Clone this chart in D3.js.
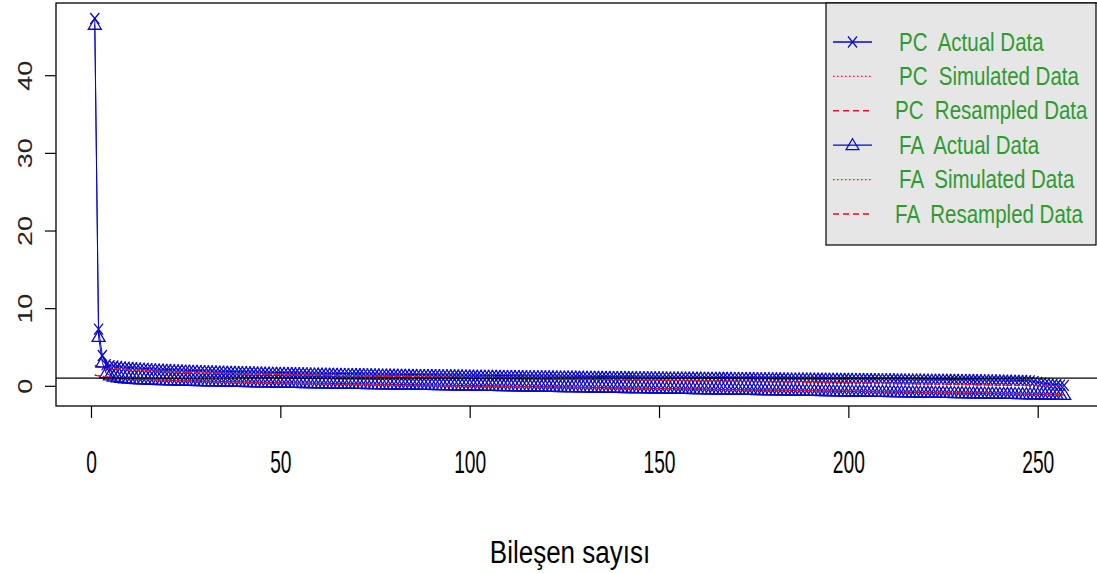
<!DOCTYPE html>
<html>
<head>
<meta charset="utf-8">
<script src="https://cdn.jsdelivr.net/npm/d3@7"></script>
<style>
  body { margin: 0; background: #fff; }
  svg { display: block; font-family: "Liberation Sans", Arial, sans-serif; }
</style>
</head>
<body>
<svg id="chart" width="1097" height="573"></svg>
<script>
// eigenvalues (component 1..257)
const pcActual = [
  47.3, 7.3, 3.9,
  2.72, 2.61, 2.55, 2.49, 2.44, 2.40, 2.36,
  2.33, 2.30, 2.27, 2.24, 2.21, 2.19, 2.16, 2.14, 2.12, 2.10,
  2.08, 2.06, 2.04, 2.03, 2.01, 1.99, 1.98, 1.96, 1.95, 1.93,
  1.92, 1.91, 1.89, 1.88, 1.87, 1.86, 1.84, 1.83, 1.82, 1.81,
  1.80, 1.79, 1.78, 1.77, 1.76, 1.75, 1.74, 1.73, 1.72, 1.71,
  1.70, 1.69, 1.68, 1.68, 1.67, 1.66, 1.65, 1.64, 1.63, 1.63,
  1.62, 1.61, 1.60, 1.60, 1.59, 1.58, 1.57, 1.57, 1.56, 1.55,
  1.55, 1.54, 1.53, 1.53, 1.52, 1.51, 1.51, 1.50, 1.49, 1.49,
  1.48, 1.47, 1.47, 1.46, 1.46, 1.45, 1.44, 1.44, 1.43, 1.43,
  1.42, 1.41, 1.41, 1.40, 1.40, 1.39, 1.39, 1.38, 1.37, 1.37,
  1.36, 1.36, 1.35, 1.35, 1.34, 1.34, 1.33, 1.33, 1.32, 1.32,
  1.31, 1.31, 1.30, 1.30, 1.29, 1.29, 1.28, 1.28, 1.27, 1.27,
  1.26, 1.26, 1.25, 1.25, 1.24, 1.24, 1.24, 1.23, 1.23, 1.22,
  1.22, 1.21, 1.21, 1.20, 1.20, 1.20, 1.19, 1.19, 1.18, 1.18,
  1.17, 1.17, 1.17, 1.16, 1.16, 1.15, 1.15, 1.15, 1.14, 1.14,
  1.13, 1.13, 1.13, 1.12, 1.12, 1.11, 1.11, 1.11, 1.10, 1.10,
  1.09, 1.09, 1.09, 1.08, 1.08, 1.07, 1.07, 1.07, 1.06, 1.06,
  1.05, 1.05, 1.05, 1.04, 1.04, 1.03, 1.03, 1.03, 1.02, 1.02,
  1.01, 1.01, 1.01, 1.00, 1.00, 0.99, 0.99, 0.99, 0.98, 0.98,
  0.97, 0.97, 0.97, 0.96, 0.96, 0.95, 0.95, 0.94, 0.94, 0.94,
  0.93, 0.93, 0.92, 0.92, 0.91, 0.91, 0.91, 0.90, 0.90, 0.89,
  0.89, 0.88, 0.88, 0.87, 0.87, 0.87, 0.86, 0.86, 0.85, 0.85,
  0.84, 0.84, 0.83, 0.83, 0.82, 0.82, 0.81, 0.81, 0.80, 0.80,
  0.79, 0.79, 0.78, 0.78, 0.77, 0.76, 0.76, 0.75, 0.74, 0.74,
  0.73, 0.72, 0.71, 0.70, 0.69, 0.68, 0.66, 0.64, 0.55, 0.45,
  0.38, 0.31, 0.25, 0.19, 0.14, 0.09, 0.05
];

const pcSimulated = [
  2.63, 2.49, 2.41, 2.34, 2.29, 2.24, 2.19, 2.15, 2.12, 2.08,
  2.05, 2.02, 1.99, 1.97, 1.94, 1.92, 1.90, 1.88, 1.86, 1.84,
  1.82, 1.80, 1.79, 1.77, 1.75, 1.74, 1.72, 1.71, 1.69, 1.68,
  1.67, 1.65, 1.64, 1.63, 1.62, 1.60, 1.59, 1.58, 1.57, 1.56,
  1.55, 1.54, 1.53, 1.52, 1.51, 1.50, 1.49, 1.48, 1.47, 1.46,
  1.45, 1.44, 1.43, 1.42, 1.41, 1.40, 1.40, 1.39, 1.38, 1.37,
  1.36, 1.35, 1.34, 1.34, 1.33, 1.32, 1.31, 1.30, 1.30, 1.29,
  1.28, 1.27, 1.26, 1.26, 1.25, 1.24, 1.23, 1.23, 1.22, 1.21,
  1.20, 1.20, 1.19, 1.18, 1.17, 1.17, 1.16, 1.15, 1.14, 1.14,
  1.13, 1.12, 1.11, 1.11, 1.10, 1.09, 1.09, 1.08, 1.07, 1.06,
  1.06, 1.05, 1.04, 1.04, 1.03, 1.02, 1.01, 1.01, 1.00, 0.99,
  0.99, 0.98, 0.97, 0.97, 0.96, 0.95, 0.95, 0.94, 0.93, 0.92,
  0.92, 0.91, 0.90, 0.90, 0.89, 0.88, 0.88, 0.87, 0.86, 0.86,
  0.85, 0.84, 0.84, 0.83, 0.82, 0.82, 0.81, 0.80, 0.80, 0.79,
  0.78, 0.78, 0.77, 0.76, 0.76, 0.75, 0.74, 0.74, 0.73, 0.72,
  0.72, 0.71, 0.70, 0.70, 0.69, 0.68, 0.68, 0.67, 0.66, 0.66,
  0.65, 0.64, 0.64, 0.63, 0.62, 0.62, 0.61, 0.60, 0.60, 0.59,
  0.58, 0.58, 0.57, 0.56, 0.56, 0.55, 0.54, 0.54, 0.53, 0.52,
  0.52, 0.51, 0.50, 0.50, 0.49, 0.48, 0.48, 0.47, 0.46, 0.46,
  0.45, 0.44, 0.44, 0.43, 0.42, 0.42, 0.41, 0.40, 0.40, 0.39,
  0.38, 0.38, 0.37, 0.36, 0.36, 0.35, 0.34, 0.34, 0.33, 0.32,
  0.32, 0.31, 0.30, 0.29, 0.29, 0.28, 0.27, 0.27, 0.26, 0.25,
  0.24, 0.24, 0.23, 0.22, 0.21, 0.21, 0.20, 0.19, 0.18, 0.17,
  0.17, 0.16, 0.15, 0.14, 0.13, 0.12, 0.11, 0.10, 0.09, 0.08,
  0.08, 0.08, 0.07, 0.07, 0.06, 0.06, 0.05, 0.05, 0.05, 0.04,
  0.04, 0.04, 0.03, 0.03, 0.03, 0.02, 0.02
];

const pcResampled = [
  2.58, 2.46, 2.39, 2.33, 2.27, 2.23, 2.18, 2.14, 2.10, 2.07,
  2.04, 2.01, 1.98, 1.95, 1.93, 1.91, 1.89, 1.87, 1.85, 1.83,
  1.81, 1.79, 1.78, 1.76, 1.74, 1.73, 1.71, 1.70, 1.68, 1.67,
  1.66, 1.64, 1.63, 1.62, 1.61, 1.59, 1.58, 1.57, 1.56, 1.55,
  1.54, 1.53, 1.52, 1.51, 1.50, 1.49, 1.48, 1.47, 1.46, 1.45,
  1.44, 1.43, 1.42, 1.41, 1.40, 1.40, 1.39, 1.38, 1.37, 1.36,
  1.35, 1.34, 1.34, 1.33, 1.32, 1.31, 1.30, 1.30, 1.29, 1.28,
  1.27, 1.26, 1.26, 1.25, 1.24, 1.23, 1.23, 1.22, 1.21, 1.20,
  1.20, 1.19, 1.18, 1.17, 1.17, 1.16, 1.15, 1.14, 1.14, 1.13,
  1.12, 1.11, 1.11, 1.10, 1.09, 1.09, 1.08, 1.07, 1.06, 1.06,
  1.05, 1.04, 1.04, 1.03, 1.02, 1.01, 1.01, 1.00, 0.99, 0.99,
  0.98, 0.97, 0.97, 0.96, 0.95, 0.95, 0.94, 0.93, 0.92, 0.92,
  0.91, 0.90, 0.90, 0.89, 0.88, 0.88, 0.87, 0.86, 0.86, 0.85,
  0.84, 0.84, 0.83, 0.82, 0.82, 0.81, 0.80, 0.80, 0.79, 0.78,
  0.78, 0.77, 0.76, 0.76, 0.75, 0.74, 0.74, 0.73, 0.72, 0.72,
  0.71, 0.70, 0.70, 0.69, 0.68, 0.68, 0.67, 0.66, 0.66, 0.65,
  0.64, 0.64, 0.63, 0.62, 0.62, 0.61, 0.60, 0.60, 0.59, 0.58,
  0.58, 0.57, 0.56, 0.56, 0.55, 0.54, 0.54, 0.53, 0.52, 0.52,
  0.51, 0.50, 0.50, 0.49, 0.48, 0.48, 0.47, 0.46, 0.46, 0.45,
  0.44, 0.44, 0.43, 0.42, 0.42, 0.41, 0.40, 0.40, 0.39, 0.38,
  0.38, 0.37, 0.36, 0.36, 0.35, 0.34, 0.34, 0.33, 0.32, 0.32,
  0.31, 0.30, 0.30, 0.29, 0.28, 0.28, 0.27, 0.26, 0.25, 0.25,
  0.24, 0.23, 0.22, 0.22, 0.21, 0.20, 0.19, 0.18, 0.18, 0.17,
  0.16, 0.15, 0.14, 0.13, 0.12, 0.11, 0.11, 0.10, 0.09, 0.09,
  0.08, 0.08, 0.07, 0.07, 0.06, 0.06, 0.06, 0.05, 0.05, 0.04,
  0.04, 0.04, 0.03, 0.03, 0.03, 0.02, 0.02
];

const faActual = [
  46.5, 6.3, 3.0,
  1.62, 1.35, 1.18, 1.08, 1.01, 0.96, 0.92,
  0.89, 0.86, 0.84, 0.82, 0.80, 0.78, 0.76, 0.75, 0.73, 0.72,
  0.70, 0.69, 0.68, 0.66, 0.65, 0.64, 0.63, 0.62, 0.61, 0.60,
  0.59, 0.58, 0.57, 0.56, 0.55, 0.54, 0.53, 0.52, 0.51, 0.50,
  0.49, 0.48, 0.47, 0.46, 0.46, 0.45, 0.44, 0.43, 0.42, 0.41,
  0.40, 0.40, 0.39, 0.38, 0.37, 0.36, 0.36, 0.35, 0.34, 0.33,
  0.32, 0.32, 0.31, 0.30, 0.29, 0.29, 0.28, 0.27, 0.26, 0.26,
  0.25, 0.24, 0.23, 0.23, 0.22, 0.21, 0.20, 0.20, 0.19, 0.18,
  0.17, 0.17, 0.16, 0.15, 0.14, 0.14, 0.13, 0.12, 0.11, 0.11,
  0.10, 0.09, 0.08, 0.08, 0.07, 0.06, 0.05, 0.05, 0.04, 0.03,
  0.02, 0.02, 0.01, 0.00, -0.01, -0.01, -0.02, -0.03, -0.04, -0.04,
  -0.05, -0.06, -0.07, -0.07, -0.08, -0.09, -0.10, -0.10, -0.11, -0.12,
  -0.13, -0.13, -0.14, -0.15, -0.16, -0.16, -0.17, -0.18, -0.19, -0.19,
  -0.20, -0.21, -0.22, -0.22, -0.23, -0.24, -0.25, -0.25, -0.26, -0.27,
  -0.28, -0.28, -0.29, -0.30, -0.31, -0.31, -0.32, -0.33, -0.34, -0.34,
  -0.35, -0.36, -0.37, -0.37, -0.38, -0.39, -0.40, -0.40, -0.41, -0.42,
  -0.43, -0.43, -0.44, -0.45, -0.46, -0.46, -0.47, -0.48, -0.49, -0.49,
  -0.50, -0.51, -0.52, -0.52, -0.53, -0.54, -0.55, -0.55, -0.56, -0.57,
  -0.58, -0.58, -0.59, -0.60, -0.61, -0.61, -0.62, -0.63, -0.64, -0.64,
  -0.65, -0.66, -0.67, -0.67, -0.68, -0.69, -0.70, -0.70, -0.71, -0.72,
  -0.73, -0.73, -0.74, -0.75, -0.76, -0.76, -0.77, -0.78, -0.79, -0.79,
  -0.80, -0.81, -0.82, -0.82, -0.83, -0.84, -0.85, -0.85, -0.86, -0.87,
  -0.88, -0.88, -0.89, -0.90, -0.91, -0.91, -0.92, -0.93, -0.94, -0.94,
  -0.95, -0.96, -0.97, -0.97, -0.98, -0.99, -1.00, -1.00, -1.01, -1.02,
  -1.03, -1.03, -1.04, -1.05, -1.06, -1.07, -1.08, -1.09, -1.10, -1.11,
  -1.12, -1.13, -1.14, -1.15, -1.16, -1.17, -1.18
];

const faSimulated = [
  1.42, 1.30, 1.23, 1.17, 1.12, 1.08, 1.04, 1.00, 0.97, 0.94,
  0.91, 0.89, 0.86, 0.84, 0.82, 0.80, 0.78, 0.76, 0.74, 0.72,
  0.71, 0.69, 0.68, 0.66, 0.65, 0.63, 0.62, 0.61, 0.59, 0.58,
  0.57, 0.56, 0.54, 0.53, 0.52, 0.51, 0.50, 0.49, 0.48, 0.47,
  0.46, 0.45, 0.44, 0.43, 0.42, 0.41, 0.40, 0.39, 0.38, 0.37,
  0.36, 0.35, 0.34, 0.33, 0.32, 0.32, 0.31, 0.30, 0.29, 0.28,
  0.27, 0.26, 0.26, 0.25, 0.24, 0.23, 0.22, 0.22, 0.21, 0.20,
  0.19, 0.18, 0.18, 0.17, 0.16, 0.15, 0.15, 0.14, 0.13, 0.12,
  0.12, 0.11, 0.10, 0.09, 0.09, 0.08, 0.07, 0.06, 0.06, 0.05,
  0.04, 0.03, 0.03, 0.02, 0.01, 0.01, 0.00, -0.01, -0.02, -0.02,
  -0.03, -0.04, -0.04, -0.05, -0.06, -0.07, -0.07, -0.08, -0.09, -0.09,
  -0.10, -0.11, -0.11, -0.12, -0.13, -0.14, -0.14, -0.15, -0.16, -0.16,
  -0.17, -0.18, -0.18, -0.19, -0.20, -0.20, -0.21, -0.22, -0.22, -0.23,
  -0.24, -0.24, -0.25, -0.26, -0.26, -0.27, -0.28, -0.28, -0.29, -0.30,
  -0.30, -0.31, -0.32, -0.32, -0.33, -0.34, -0.34, -0.35, -0.36, -0.36,
  -0.37, -0.38, -0.38, -0.39, -0.40, -0.40, -0.41, -0.42, -0.42, -0.43,
  -0.44, -0.44, -0.45, -0.46, -0.46, -0.47, -0.48, -0.48, -0.49, -0.50,
  -0.50, -0.51, -0.52, -0.52, -0.53, -0.54, -0.54, -0.55, -0.56, -0.56,
  -0.57, -0.58, -0.58, -0.59, -0.60, -0.60, -0.61, -0.62, -0.62, -0.63,
  -0.64, -0.64, -0.65, -0.66, -0.66, -0.67, -0.68, -0.68, -0.69, -0.70,
  -0.70, -0.71, -0.72, -0.72, -0.73, -0.74, -0.74, -0.75, -0.76, -0.76,
  -0.77, -0.78, -0.78, -0.79, -0.80, -0.80, -0.81, -0.82, -0.83, -0.83,
  -0.84, -0.85, -0.85, -0.86, -0.87, -0.87, -0.88, -0.89, -0.90, -0.90,
  -0.91, -0.92, -0.93, -0.93, -0.94, -0.95, -0.96, -0.96, -0.97, -0.98,
  -0.99, -0.99, -1.00, -1.01, -1.02, -1.03, -1.03, -1.04, -1.05, -1.06,
  -1.07, -1.08, -1.09, -1.10, -1.11, -1.12, -1.13
];

const faResampled = [
  1.38, 1.28, 1.21, 1.16, 1.11, 1.07, 1.03, 0.99, 0.96, 0.93,
  0.90, 0.88, 0.85, 0.83, 0.81, 0.79, 0.77, 0.75, 0.73, 0.72,
  0.70, 0.68, 0.67, 0.65, 0.64, 0.62, 0.61, 0.60, 0.58, 0.57,
  0.56, 0.55, 0.53, 0.52, 0.51, 0.50, 0.49, 0.48, 0.47, 0.46,
  0.45, 0.44, 0.43, 0.42, 0.41, 0.40, 0.39, 0.38, 0.37, 0.36,
  0.35, 0.34, 0.33, 0.33, 0.32, 0.31, 0.30, 0.29, 0.28, 0.27,
  0.27, 0.26, 0.25, 0.24, 0.23, 0.23, 0.22, 0.21, 0.20, 0.19,
  0.19, 0.18, 0.17, 0.16, 0.15, 0.15, 0.14, 0.13, 0.12, 0.12,
  0.11, 0.10, 0.09, 0.09, 0.08, 0.07, 0.06, 0.06, 0.05, 0.04,
  0.03, 0.03, 0.02, 0.01, 0.01, 0.00, -0.01, -0.02, -0.02, -0.03,
  -0.04, -0.04, -0.05, -0.06, -0.06, -0.07, -0.08, -0.09, -0.09, -0.10,
  -0.11, -0.11, -0.12, -0.13, -0.13, -0.14, -0.15, -0.15, -0.16, -0.17,
  -0.17, -0.18, -0.19, -0.19, -0.20, -0.21, -0.21, -0.22, -0.23, -0.23,
  -0.24, -0.25, -0.25, -0.26, -0.27, -0.27, -0.28, -0.29, -0.29, -0.30,
  -0.31, -0.31, -0.32, -0.33, -0.33, -0.34, -0.35, -0.35, -0.36, -0.37,
  -0.37, -0.38, -0.39, -0.39, -0.40, -0.41, -0.41, -0.42, -0.43, -0.43,
  -0.44, -0.45, -0.45, -0.46, -0.47, -0.47, -0.48, -0.49, -0.49, -0.50,
  -0.51, -0.51, -0.52, -0.53, -0.53, -0.54, -0.55, -0.55, -0.56, -0.57,
  -0.57, -0.58, -0.59, -0.59, -0.60, -0.61, -0.61, -0.62, -0.63, -0.63,
  -0.64, -0.65, -0.65, -0.66, -0.67, -0.67, -0.68, -0.69, -0.69, -0.70,
  -0.71, -0.71, -0.72, -0.73, -0.73, -0.74, -0.75, -0.75, -0.76, -0.77,
  -0.77, -0.78, -0.79, -0.79, -0.80, -0.81, -0.82, -0.82, -0.83, -0.84,
  -0.84, -0.85, -0.86, -0.86, -0.87, -0.88, -0.89, -0.89, -0.90, -0.91,
  -0.92, -0.92, -0.93, -0.94, -0.95, -0.95, -0.96, -0.97, -0.98, -0.98,
  -0.99, -1.00, -1.01, -1.02, -1.02, -1.03, -1.04, -1.05, -1.06, -1.07,
  -1.08, -1.09, -1.10, -1.11, -1.12, -1.13, -1.14
];

const xTicks = [0, 50, 100, 150, 200, 250];
const yTicks = [0, 10, 20, 30, 40];
const legendLabels = [
  "PC  Actual Data", "PC  Simulated Data", "PC  Resampled Data",
  "FA  Actual Data", "FA  Simulated Data", "FA  Resampled Data"
];
const xTitle = "Bileşen sayısı";

const blue = "#0808c8";
const red = "#e8101c";
const green = "#2f9a2f";

const svg = d3.select("#chart");

// plot region (right side runs past the picture edge)
const plot = { left: 56, right: 1103, top: 3, bottom: 406 };

const x = d3.scaleLinear().domain([-9.24, 267.24]).range([plot.left, plot.right]);
const y = d3.scaleLinear().domain([-2.6, 49.3]).range([plot.bottom, plot.top]);

const line = d3.line()
  .x((d, i) => x(i + 1))
  .y(d => y(d));

const data = svg.append("g");

const crossPath = "M-4.5,-5.5L4.5,5.5M-4.5,5.5L4.5,-5.5";
const triPath = "M0,-6.5L6.5,4.5L-6.5,4.5Z";

// PC actual
data.append("path").datum(pcActual)
  .attr("d", line).attr("fill", "none").attr("stroke", blue).attr("stroke-width", 1);
data.append("g").selectAll("path").data(pcActual).enter().append("path")
  .attr("d", crossPath)
  .attr("transform", (d, i) => `translate(${x(i + 1)},${y(d)})`)
  .attr("fill", "none").attr("stroke", blue).attr("stroke-width", 1.3);

// PC simulated / resampled
data.append("path").datum(pcSimulated)
  .attr("d", line).attr("fill", "none").attr("stroke", red)
  .attr("stroke-width", 1.3).attr("stroke-dasharray", "1.5,2.5");
data.append("path").datum(pcResampled)
  .attr("d", line).attr("fill", "none").attr("stroke", red)
  .attr("stroke-width", 1.3).attr("stroke-dasharray", "6,4");

// FA actual
data.append("path").datum(faActual)
  .attr("d", line).attr("fill", "none").attr("stroke", blue).attr("stroke-width", 1);
data.append("g").selectAll("path").data(faActual).enter().append("path")
  .attr("d", triPath)
  .attr("transform", (d, i) => `translate(${x(i + 1)},${y(d)})`)
  .attr("fill", "none").attr("stroke", blue).attr("stroke-width", 1.3);

// FA simulated / resampled
data.append("path").datum(faSimulated)
  .attr("d", line).attr("fill", "none").attr("stroke", red)
  .attr("stroke-width", 1.3).attr("stroke-dasharray", "1.5,2.5");
data.append("path").datum(faResampled)
  .attr("d", line).attr("fill", "none").attr("stroke", red)
  .attr("stroke-width", 1.3).attr("stroke-dasharray", "6,4");

// eigenvalue = 1 reference line
svg.append("line")
  .attr("x1", plot.left).attr("x2", plot.right)
  .attr("y1", y(1)).attr("y2", y(1))
  .attr("stroke", "#000").attr("stroke-width", 1.3);

// frame
svg.append("rect")
  .attr("x", plot.left).attr("y", plot.top)
  .attr("width", plot.right - plot.left).attr("height", plot.bottom - plot.top)
  .attr("fill", "none").attr("stroke", "#000").attr("stroke-width", 1.3);

// axes
const xAxisG = svg.append("g")
  .attr("transform", `translate(0,${plot.bottom})`)
  .call(d3.axisBottom(x).tickValues(xTicks).tickSize(12).tickSizeOuter(0));
xAxisG.select(".domain").remove();
xAxisG.selectAll(".tick line").attr("stroke", "#000").attr("stroke-width", 1.2);
xAxisG.selectAll(".tick text")
  .attr("y", 67).attr("dy", null)
  .attr("transform", "scale(0.62,1)")
  .attr("font-size", 31).attr("font-family", "Liberation Sans, Arial, sans-serif")
  .attr("fill", "#000");

const yAxisG = svg.append("g")
  .attr("transform", `translate(${plot.left},0)`)
  .call(d3.axisLeft(y).tickValues(yTicks).tickSize(11).tickSizeOuter(0));
yAxisG.select(".domain").remove();
yAxisG.selectAll(".tick line").attr("stroke", "#000").attr("stroke-width", 1.2);
yAxisG.selectAll(".tick text")
  .attr("x", 0).attr("dy", null)
  .attr("text-anchor", "middle")
  .attr("transform", "translate(-24,0) rotate(-90) scale(1.28,1)")
  .attr("font-size", 21).attr("font-family", "Liberation Sans, Arial, sans-serif")
  .attr("fill", "#222");

// x title
svg.append("text")
  .attr("transform", "translate(570,563) scale(1,1.2)")
  .attr("text-anchor", "middle")
  .attr("font-size", 26)
  .attr("fill", "#000")
  .text(xTitle);

// legend
const legend = svg.append("g");
legend.append("rect")
  .attr("x", 826).attr("y", 3).attr("width", 270).attr("height", 242)
  .attr("fill", "#e6e6e6").attr("stroke", "#000").attr("stroke-width", 1.2);

const legendRowY = d3.scaleLinear().domain([0, 5]).range([42, 214]);
const legendStyles = [
  { dash: null, marker: crossPath },
  { dash: "1.5,2.5", marker: null },
  { dash: "6,4", marker: null },
  { dash: null, marker: triPath },
  { dash: "1.5,2.5", marker: null },
  { dash: "6,4", marker: null }
];

legendLabels.forEach((label, i) => {
  const cy = legendRowY(i);
  const st = legendStyles[i];
  const col = st.marker ? blue : red;
  legend.append("line")
    .attr("x1", 833).attr("x2", 872).attr("y1", cy).attr("y2", cy)
    .attr("stroke", col).attr("stroke-width", st.marker ? 1.3 : 1.4)
    .attr("stroke-dasharray", st.dash);
  if (st.marker) {
    legend.append("path")
      .attr("d", st.marker)
      .attr("transform", `translate(852.5,${cy})`)
      .attr("fill", "none").attr("stroke", blue).attr("stroke-width", 1.2);
  }
  legend.append("text")
    .attr("transform", `translate(${i === 2 || i === 5 ? 895 : 899},${cy + 8.5}) scale(1,1.25)`)
    .attr("font-size", 20.5)
    .attr("fill", green)
    .style("white-space", "pre")
    .text(label);
});
</script>
</body>
</html>
